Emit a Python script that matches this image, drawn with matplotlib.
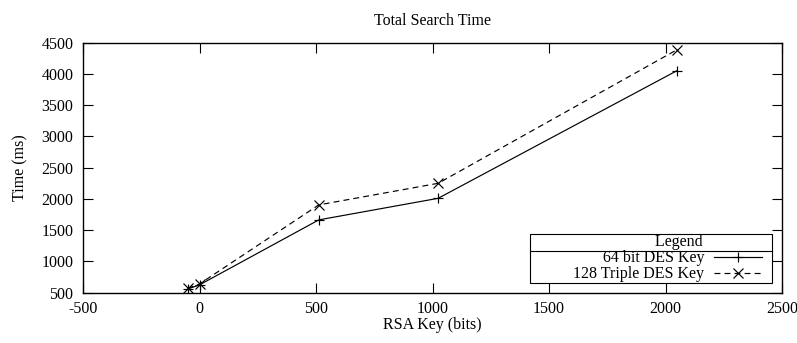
import matplotlib
matplotlib.use("Agg")
import matplotlib.pyplot as plt
from matplotlib.lines import Line2D
from matplotlib.patches import Rectangle

# data
key_bits = [-50, 0, 512, 1024, 2048]
des64_ms = [560, 625, 1665, 2010, 4050]
tdes128_ms = [570, 640, 1905, 2250, 4385]
series_labels = ["64 bit DES Key", "128 Triple DES Key"]
x_ticks = [-500, 0, 500, 1000, 1500, 2000, 2500]
y_ticks = [500, 1000, 1500, 2000, 2500, 3000, 3500, 4000, 4500]

plt.rcParams['font.family'] = ['Liberation Serif', 'DejaVu Serif']
plt.rcParams['font.size'] = 11.5
plt.rcParams['axes.unicode_minus'] = False

W, H = 797, 343
fig = plt.figure(figsize=(W / 100, H / 100), dpi=100)
ax = fig.add_axes([83/W, 1 - 292.7/H, (782 - 83)/W, (292.7 - 42.7)/H])

ax.plot(key_bits, des64_ms, color='black', lw=0.85, marker='+', ms=6.5, mew=0.85,
        label=series_labels[0])
ax.plot(key_bits, tdes128_ms, color='black', lw=0.85, ls=(0, (5, 3.5)), marker='x',
        ms=6.5, mew=0.85, label=series_labels[1])

ax.set_xlim(-500, 2500)
ax.set_ylim(500, 4500)
ax.set_xticks(x_ticks)
ax.set_yticks(y_ticks)
ax.tick_params(direction='in', length=7.2, width=0.8, top=True, right=True,
               labelsize=11.5)
ax.tick_params(axis='y', pad=7)
ax.tick_params(axis='x', pad=6)
for s in ax.spines.values():
    s.set_linewidth(1.0)

ax.set_title("Total Search Time", fontsize=11.5, pad=13)
ax.set_xlabel("RSA Key (bits)", fontsize=11.5, labelpad=0.3)
ax.set_ylabel("Time (ms)", fontsize=11.5, labelpad=9)

title = "Legend" + " " * 15
leg = ax.legend(loc='lower right', title=title, markerfirst=False,
                frameon=False, handlelength=3.05, handletextpad=0.6,
                borderpad=0.1, labelspacing=0.0, borderaxespad=0.0,
                bbox_to_anchor=(764 / W, 1 - 284 / H),
                bbox_transform=fig.transFigure, alignment='right',
                title_fontsize=11.5, fontsize=11.5)
leg.set_zorder(6)

fig.canvas.draw()
r = fig.canvas.get_renderer()
lb = leg.get_window_extent(r)
tb = leg.get_title().get_window_extent(r)
inv = fig.transFigure.inverted()
fx0, fy0 = inv.transform((530, lb.y0 + 1))
fx1, fy1 = inv.transform((771.7, lb.y1 - 1))
box = Rectangle((fx0, fy0), fx1 - fx0, fy1 - fy0, transform=fig.transFigure,
                facecolor='white', edgecolor='black', lw=0.8, zorder=4,
                clip_on=False)
ax.add_artist(box)
_, sy = inv.transform((0, tb.y0 - 0.5))
sep = Line2D([fx0, fx1], [sy, sy], transform=fig.transFigure,
             color='black', lw=0.8, zorder=5, clip_on=False)
ax.add_artist(sep)

fig.savefig("out.png", dpi=100)
